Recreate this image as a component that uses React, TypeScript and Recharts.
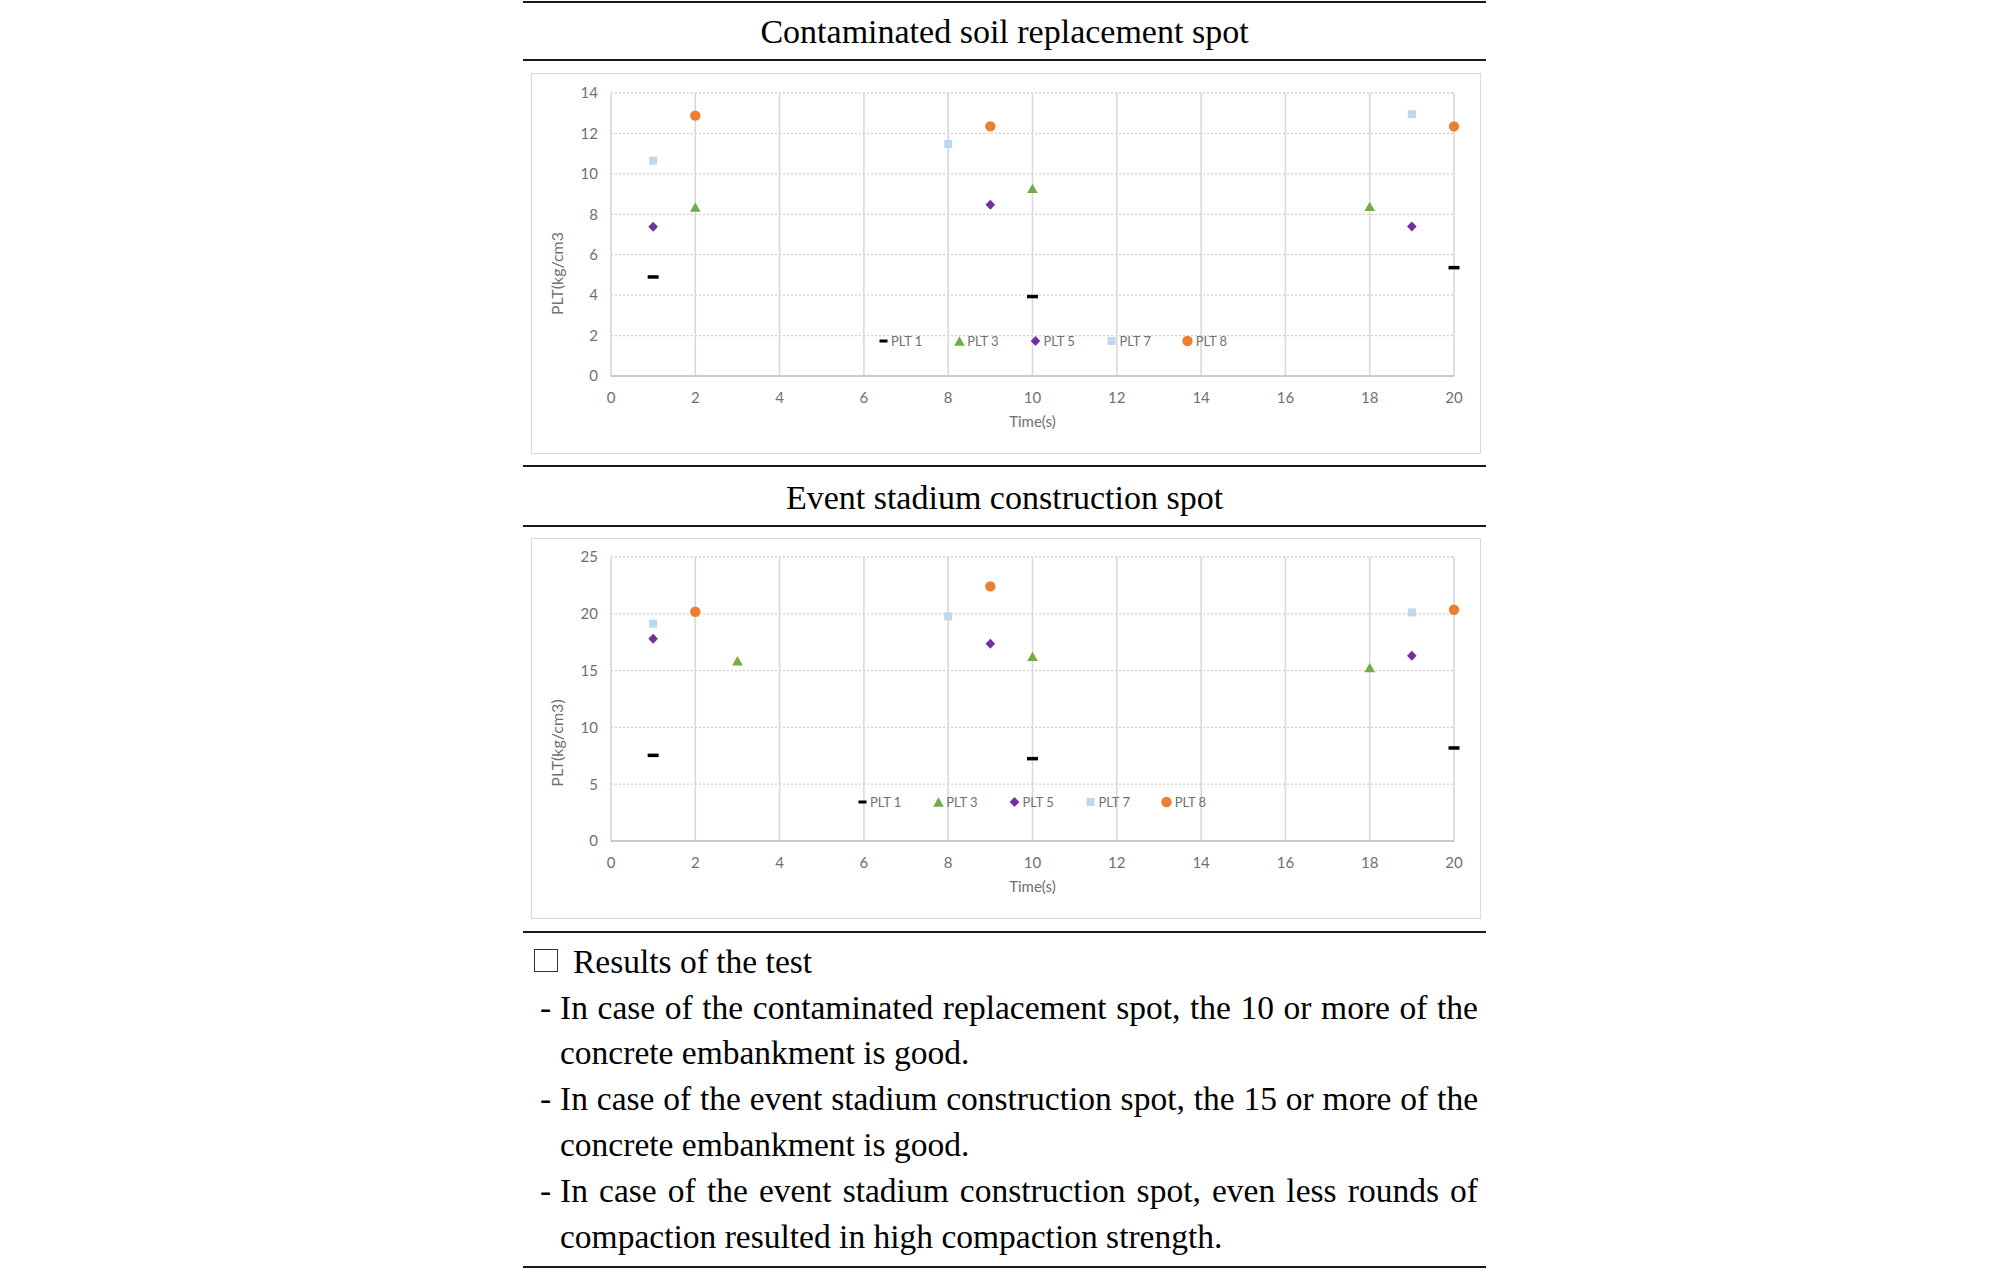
import React from 'react';
import { ScatterChart, Scatter, XAxis, YAxis, CartesianGrid, Legend } from 'recharts';

// ---------- data ----------
const timeTicks = [0, 2, 4, 6, 8, 10, 12, 14, 16, 18, 20];
const soilTicks = [0, 2, 4, 6, 8, 10, 12, 14];
const stadiumTicks = [0, 5, 10, 15, 20, 25];
const seriesNames = ['PLT 1', 'PLT 3', 'PLT 5', 'PLT 7', 'PLT 8'];

const soilPLT1 = [{ x: 1, y: 4.9 }, { x: 10, y: 3.93 }, { x: 20, y: 5.36 }];
const soilPLT3 = [{ x: 2, y: 8.36 }, { x: 10, y: 9.28 }, { x: 18, y: 8.39 }];
const soilPLT5 = [{ x: 1, y: 7.38 }, { x: 9, y: 8.47 }, { x: 19, y: 7.4 }];
const soilPLT7 = [{ x: 1, y: 10.65 }, { x: 8, y: 11.48 }, { x: 19, y: 12.95 }];
const soilPLT8 = [{ x: 2, y: 12.88 }, { x: 9, y: 12.35 }, { x: 20, y: 12.35 }];

const stadiumPLT1 = [{ x: 1, y: 7.54 }, { x: 10, y: 7.25 }, { x: 20, y: 8.19 }];
const stadiumPLT3 = [{ x: 3, y: 15.87 }, { x: 10, y: 16.25 }, { x: 18, y: 15.26 }];
const stadiumPLT5 = [{ x: 1, y: 17.81 }, { x: 9, y: 17.37 }, { x: 19, y: 16.31 }];
const stadiumPLT7 = [{ x: 1, y: 19.13 }, { x: 8, y: 19.77 }, { x: 19, y: 20.12 }];
const stadiumPLT8 = [{ x: 2, y: 20.18 }, { x: 9, y: 22.41 }, { x: 20, y: 20.36 }];

const soilTitle = 'Contaminated soil replacement spot';
const stadiumTitle = 'Event stadium construction spot';
const soilYLabel = 'PLT(kg/cm3';
const stadiumYLabel = 'PLT(kg/cm3)';
const xLabel = 'Time(s)';

const resultsHeading = 'Results of the test';
const resultLines = [
  { dash: true, full: true, text: 'In case of the contaminated replacement spot, the 10 or more of the' },
  { dash: false, full: false, text: 'concrete embankment is good.' },
  { dash: true, full: true, text: 'In case of the event stadium construction spot, the 15 or more of the' },
  { dash: false, full: false, text: 'concrete embankment is good.' },
  { dash: true, full: true, text: 'In case of the event stadium construction spot, even less rounds of' },
  { dash: false, full: false, text: 'compaction resulted in high compaction strength.' },
];

// ---------- styles ----------
const seriesStyles = [
  { kind: 'dash', color: '#000000' },
  { kind: 'triangle', color: '#70ad47' },
  { kind: 'diamond', color: '#7030a0' },
  { kind: 'square', color: '#bdd7ee' },
  { kind: 'circle', color: '#ed7d31' },
];

const SERIF = '"Liberation Serif", "Times New Roman", serif';
const SANS = 'Lato, "Open Sans", sans-serif';
const TICK_COLOR = '#707070';

function Marker({ kind, color, cx, cy, legend }: any) {
  if (cx == null || cy == null) return null;
  switch (kind) {
    case 'dash': {
      const w = legend ? 8 : 11;
      const h = legend ? 3 : 3.5;
      return <rect x={cx - w / 2} y={cy - h / 2} width={w} height={h} fill={color} />;
    }
    case 'triangle':
      return (
        <polygon
          points={`${cx},${cy - 4.7} ${cx + 5.3},${cy + 4.7} ${cx - 5.3},${cy + 4.7}`}
          fill={color}
        />
      );
    case 'diamond':
      return (
        <polygon
          points={`${cx},${cy - 5} ${cx + 4.8},${cy} ${cx},${cy + 5} ${cx - 4.8},${cy}`}
          fill={color}
        />
      );
    case 'square':
      return <rect x={cx - 4} y={cy - 4} width={8} height={8} fill={color} />;
    case 'circle':
      return <circle cx={cx} cy={cy} r={5.2} fill={color} />;
    default:
      return null;
  }
}

const renderLegend = (props: any) => {
  const payload = props.payload || [];
  return (
    <div style={{ display: 'flex', fontFamily: SANS, fontSize: 13, color: TICK_COLOR, whiteSpace: 'nowrap' }}>
      {payload.map((entry: any, i: number) => {
        const idx = seriesNames.indexOf(entry.value);
        const st = seriesStyles[idx >= 0 ? idx : i];
        return (
          <div key={`leg-${i}`} style={{ width: 76.2, height: 16, display: 'flex', alignItems: 'center' }}>
            <svg width={11} height={16} style={{ display: 'block', flex: 'none' }}>
              <Marker kind={st.kind} color={st.color} cx={5.5} cy={8} legend />
            </svg>
            <span style={{ marginLeft: 2.5, lineHeight: '16px' }}>{entry.value}</span>
          </div>
        );
      })}
    </div>
  );
};

const makeYTitle = (text: string, centerShift: number) => (props: any) => {
  const vb = props.viewBox || {};
  const cx = (vb.x || 0) + 26.5;
  const cy = (vb.y || 0) + (vb.height || 0) / 2 + centerShift;
  return (
    <text
      x={cx}
      y={cy}
      transform={`rotate(-90 ${cx} ${cy})`}
      textAnchor="middle"
      dy="0.36em"
      fontFamily={SANS}
      fontSize={16}
      fill={TICK_COLOR}
    >
      {text}
    </text>
  );
};

const makeXTitle = (text: string) => (props: any) => {
  const vb = props.viewBox || {};
  const cx = (vb.x || 0) + (vb.width || 0) / 2;
  const cy = (vb.y || 0) + 46;
  return (
    <text x={cx} y={cy} textAnchor="middle" dy="0.36em" fontFamily={SANS} fontSize={15} fill={TICK_COLOR}>
      {text}
    </text>
  );
};

type PanelProps = {
  series: { x: number; y: number }[][];
  yTicks: number[];
  yMax: number;
  yLabel: string;
  yLabelShift: number;
  marginTop: number;
  legendLeft: number;
  legendTop: number;
};

function Panel({ series, yTicks, yMax, yLabel, yLabelShift, marginTop, legendLeft, legendTop }: PanelProps) {
  const tickStyle = { fontFamily: SANS, fontSize: 15, fill: TICK_COLOR };
  return (
    <ScatterChart
      width={950}
      height={381}
      margin={{ top: marginTop, right: 27, bottom: 78 - 50 - (marginTop - 20) * 0, left: 0 }}
    >
      <CartesianGrid horizontal={true} vertical={false} stroke="#cfcfcf" strokeDasharray="2 2" strokeWidth={1.3} />
      <CartesianGrid horizontal={false} vertical={true} stroke="#d9d9d9" strokeWidth={1.6} />
      <XAxis
        type="number"
        dataKey="x"
        domain={[0, 20]}
        ticks={timeTicks}
        interval={0}
        height={50}
        tickLine={false}
        tickSize={0}
        tickMargin={16}
        axisLine={{ stroke: '#bfbfbf', strokeWidth: 1.6 }}
        tick={tickStyle}
        label={makeXTitle(xLabel)}
      />
      <YAxis
        type="number"
        dataKey="y"
        domain={[0, yMax]}
        ticks={yTicks}
        interval={0}
        width={80}
        tickLine={false}
        tickSize={0}
        tickMargin={13}
        axisLine={false}
        tick={tickStyle}
        label={makeYTitle(yLabel, yLabelShift)}
      />
      <Legend
        layout="horizontal"
        verticalAlign="middle"
        align="center"
        content={renderLegend}
        wrapperStyle={{ left: legendLeft, top: legendTop, width: 'auto', height: 16 }}
      />
      {series.map((data, i) => (
        <Scatter
          key={seriesNames[i]}
          name={seriesNames[i]}
          data={data}
          fill={seriesStyles[i].color}
          isAnimationActive={false}
          shape={(p: any) => <Marker kind={seriesStyles[i].kind} color={seriesStyles[i].color} cx={p.cx} cy={p.cy} />}
        />
      ))}
    </ScatterChart>
  );
}

function Rule({ top }: { top: number }) {
  return <div style={{ position: 'absolute', left: 523, top, width: 963, height: 2, background: '#1a1a1a' }} />;
}

function Title({ text, baseline }: { text: string; baseline: number }) {
  const F = 34;
  return (
    <div
      style={{
        position: 'absolute',
        left: 523,
        width: 963,
        top: baseline - 0.8375 * F,
        fontFamily: SERIF,
        fontSize: F,
        lineHeight: `${F}px`,
        textAlign: 'center',
        color: '#000',
        whiteSpace: 'nowrap',
      }}
    >
      {text}
    </div>
  );
}

function Box({ top }: { top: number }) {
  return (
    <div
      style={{
        position: 'absolute',
        left: 531,
        top,
        width: 950,
        height: 381,
        border: '1px solid #d9d9d9',
        boxSizing: 'border-box',
      }}
    />
  );
}

export default function App() {
  const soilSeries = [soilPLT1, soilPLT3, soilPLT5, soilPLT7, soilPLT8];
  const stadiumSeries = [stadiumPLT1, stadiumPLT3, stadiumPLT5, stadiumPLT7, stadiumPLT8];
  const F = 33.5;
  const LH = 45.8;
  const textTop = 973 - ((LH - 1.107 * F) / 2 + 0.891 * F);
  return (
    <div
      style={{
        position: 'absolute',
        left: 0,
        top: 0,
        width: 2008,
        height: 1269,
        background: '#ffffff',
        overflow: 'hidden',
      }}
    >
      <Rule top={0.7} />
      <Title text={soilTitle} baseline={43} />
      <Rule top={59} />
      <Box top={73} />
      <div style={{ position: 'absolute', left: 531, top: 73 }}>
        <Panel
          series={soilSeries}
          yTicks={soilTicks}
          yMax={14}
          yLabel={soilYLabel}
          yLabelShift={39}
          marginTop={20}
          legendLeft={346.5}
          legendTop={259.7}
        />
      </div>
      <Rule top={465} />
      <Title text={stadiumTitle} baseline={509} />
      <Rule top={525} />
      <Box top={538} />
      <div style={{ position: 'absolute', left: 531, top: 538 }}>
        <Panel
          series={stadiumSeries}
          yTicks={stadiumTicks}
          yMax={25}
          yLabel={stadiumYLabel}
          yLabelShift={44}
          marginTop={19}
          legendLeft={325.5}
          legendTop={255.7}
        />
      </div>
      <Rule top={930.7} />

      <div
        style={{
          position: 'absolute',
          left: 534,
          top: 949,
          width: 24,
          height: 23,
          border: '1.3px solid #333',
          boxSizing: 'border-box',
        }}
      />
      <div
        style={{
          position: 'absolute',
          left: 573,
          top: textTop,
          fontFamily: SERIF,
          fontSize: F,
          lineHeight: `${LH}px`,
          whiteSpace: 'nowrap',
          color: '#000',
        }}
      >
        {resultsHeading}
      </div>
      {resultLines.map((ln, i) => (
        <div
          key={`ln-${i}`}
          style={{
            position: 'absolute',
            left: 540,
            top: textTop + LH * (i + 1),
            width: 938,
            height: LH,
            display: 'flex',
            fontFamily: SERIF,
            fontSize: F,
            lineHeight: `${LH}px`,
            color: '#000',
          }}
        >
          <span style={{ width: 20, flex: 'none' }}>{ln.dash ? '-' : ''}</span>
          <span
            style={{
              display: 'block',
              width: 918,
              whiteSpace: 'nowrap',
              textAlign: ln.full ? 'justify' : 'left',
              textAlignLast: ln.full ? 'justify' : 'left',
            }}
          >
            {ln.text}
          </span>
        </div>
      ))}
      <Rule top={1266} />
    </div>
  );
}
